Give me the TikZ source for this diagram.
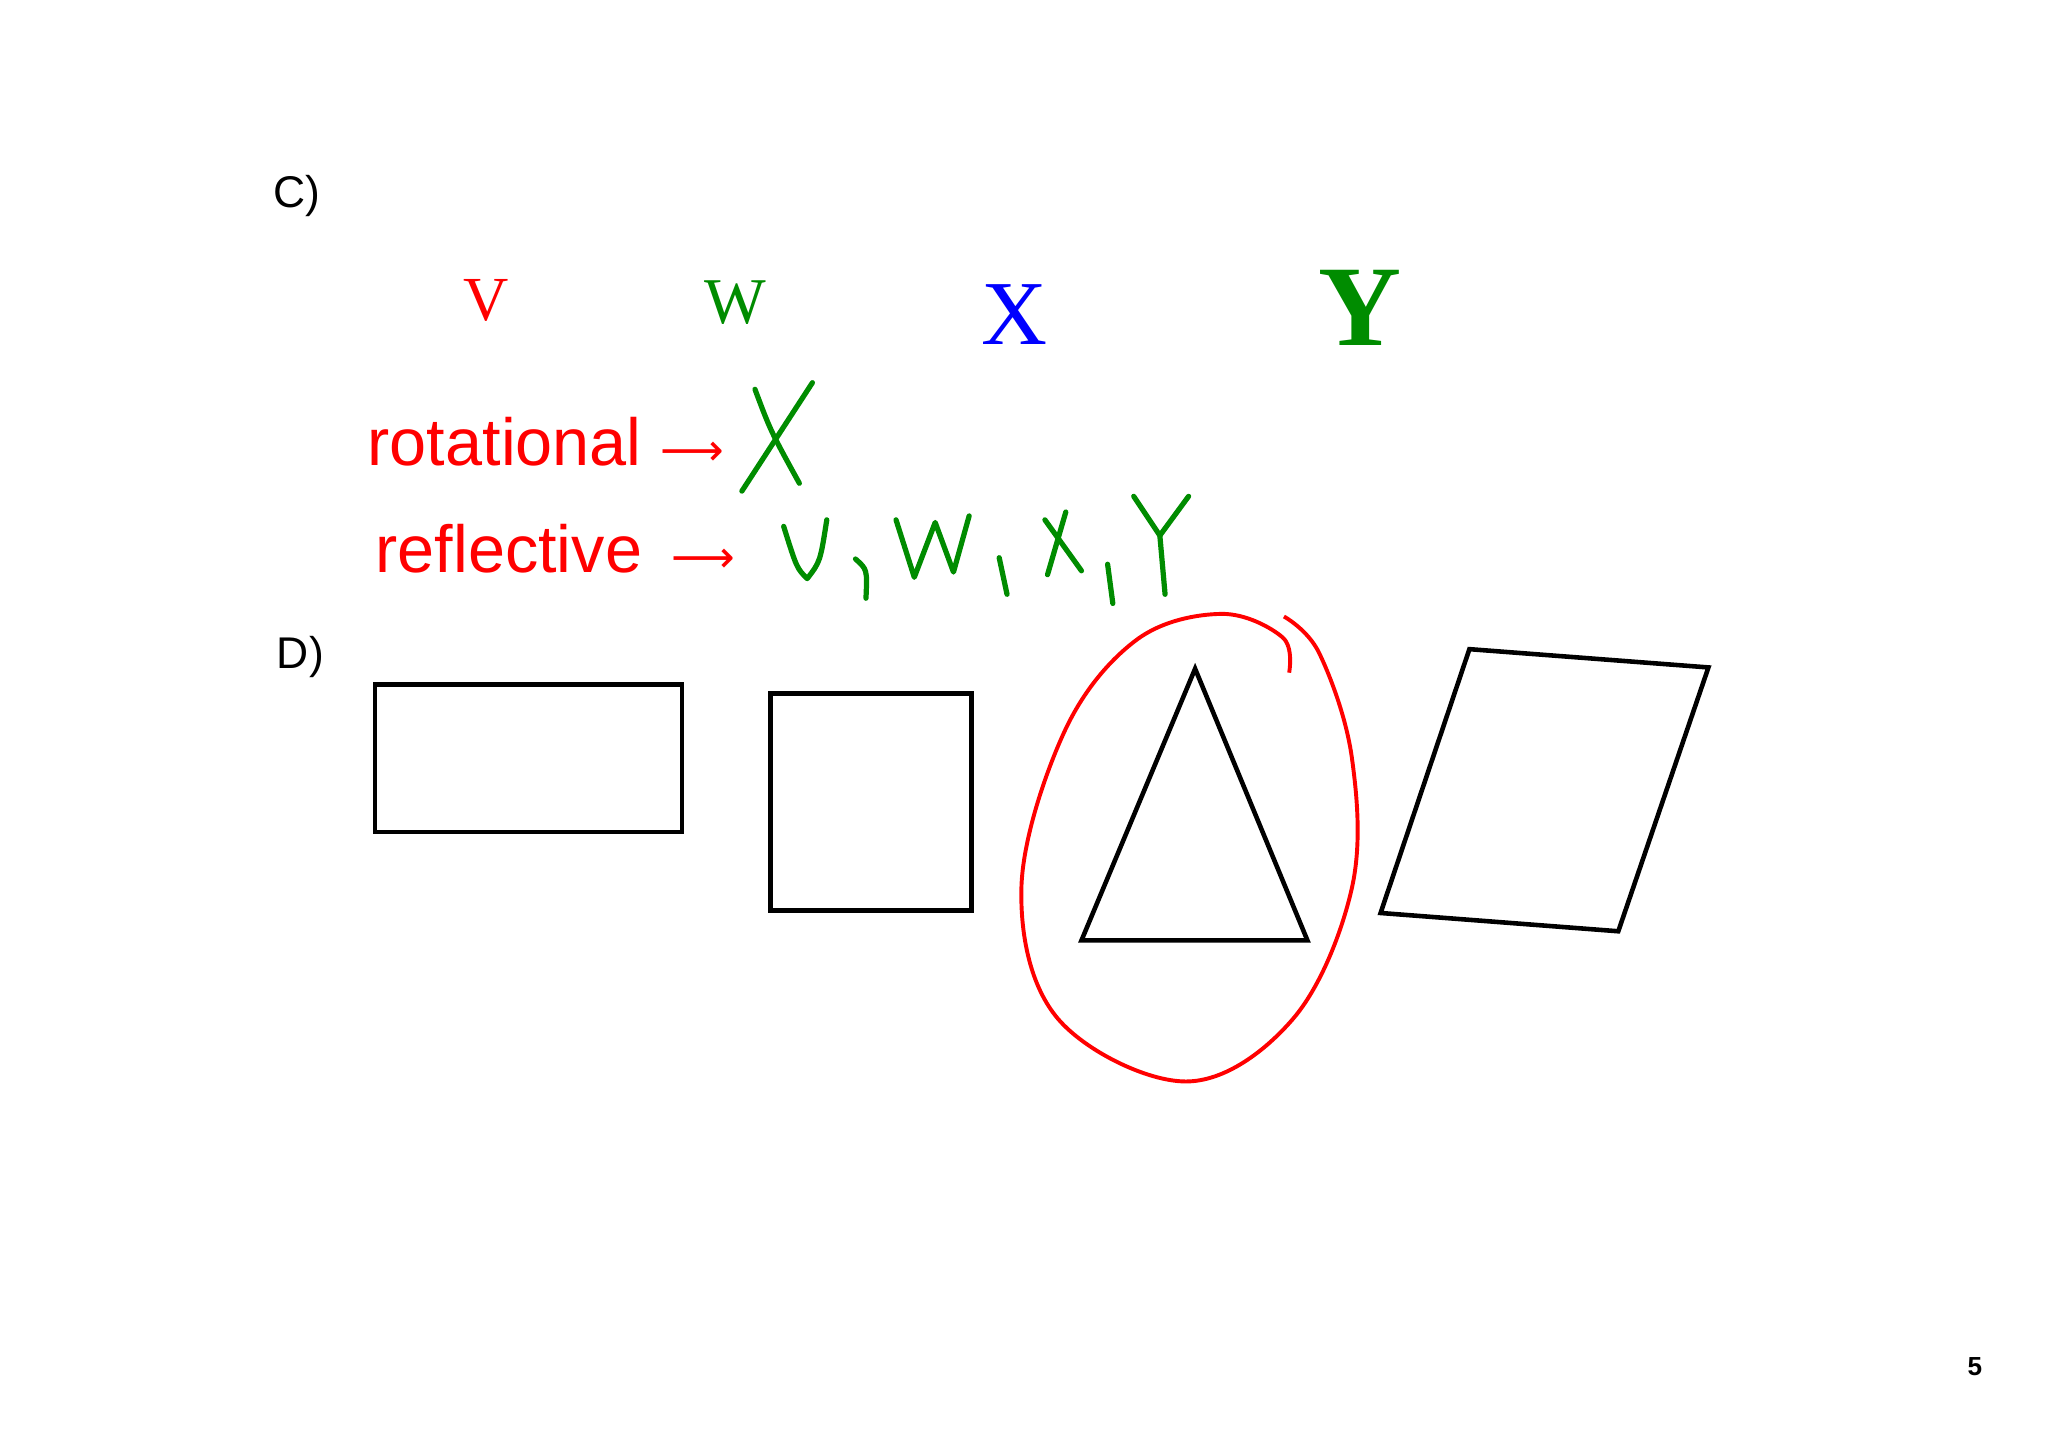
\documentclass[tikz,border=0pt]{standalone}
\usepackage{fontspec}
\setmainfont{Liberation Sans}
\newfontfamily\serifx{Liberation Serif}
\newfontfamily\arrowfont{DejaVu Sans}
\begin{document}
\begin{tikzpicture}[x=1pt,y=-1pt,
  outl/.style={draw=black,line width=3.5pt},
  hand/.style={draw=green!55!black,line width=4pt,line cap=round,line join=round},
  redloop/.style={draw=red,line width=3pt}]
\useasboundingbox (0,0) rectangle (1568,1108);
\node (c) at (227,150) {\fontsize{34}{40}\selectfont C)};
\node (d) at (230,503) {\fontsize{34}{40}\selectfont D)};
\node[red] (lv) at (372,230) {\serifx\fontsize{48}{52}\selectfont V};
\node[green!55!black] (lw) at (563,232) {\serifx\fontsize{50}{52}\selectfont W};
\node[blue] (lx) at (777,241) {\serifx\fontsize{70}{76}\selectfont X};
\node[green!55!black] (ly) at (1041,236) {\serifx\bfseries\fontsize{88}{94}\selectfont Y};
\node[red,anchor=west] (rot) at (278,338) {\fontsize{51}{56}\selectfont rotational {\arrowfont\fontsize{34}{40}\selectfont ⟶}};
\node[red,anchor=west] (ref) at (284,420) {\fontsize{51}{56}\selectfont reflective \,{\arrowfont\fontsize{34}{40}\selectfont ⟶}};
% handwriting
\draw[hand] (578,298) .. controls (590,330) .. (612,370);
\draw[hand] (622,293) .. controls (595,335) .. (568,376);
\draw[hand] (600,403) .. controls (610,435) .. (618,443) .. controls (628,430) .. (633,398);
\draw[hand] (655,428) .. controls (664,436) .. (663,458);
\draw[hand] (686,398) -- (700,442) -- (716,400) -- (730,438) -- (742,395);
\draw[hand] (765,427) -- (771,455);
\draw[hand] (800,398) -- (828,437);
\draw[hand] (816,392) -- (802,440);
\draw[hand] (848,432) -- (852,462);
\draw[hand] (868,380) -- (888,410) -- (910,380);
\draw[hand] (888,410) -- (892,455);
% shapes
\draw[outl] (287,524) rectangle (522,637);
\draw[outl] (590,531) rectangle (744,697);
\draw[outl] (915,512) -- (828,720) -- (1001,720) -- cycle;
\draw[outl] (1125,497) -- (1308,511) -- (1239,713) -- (1057,699) -- cycle;
\draw[redloop] plot[smooth,tension=0.6] coordinates {(987,515) (982,488) (935,470) (870,490) (815,560) (782,680) (810,780) (908,828) (990,780) (1035,680) (1035,580) (1010,500) (983,472)};
\node (pg) at (1512,1046) {\bfseries\fontsize{20}{24}\selectfont 5};
\end{tikzpicture}
\end{document}
